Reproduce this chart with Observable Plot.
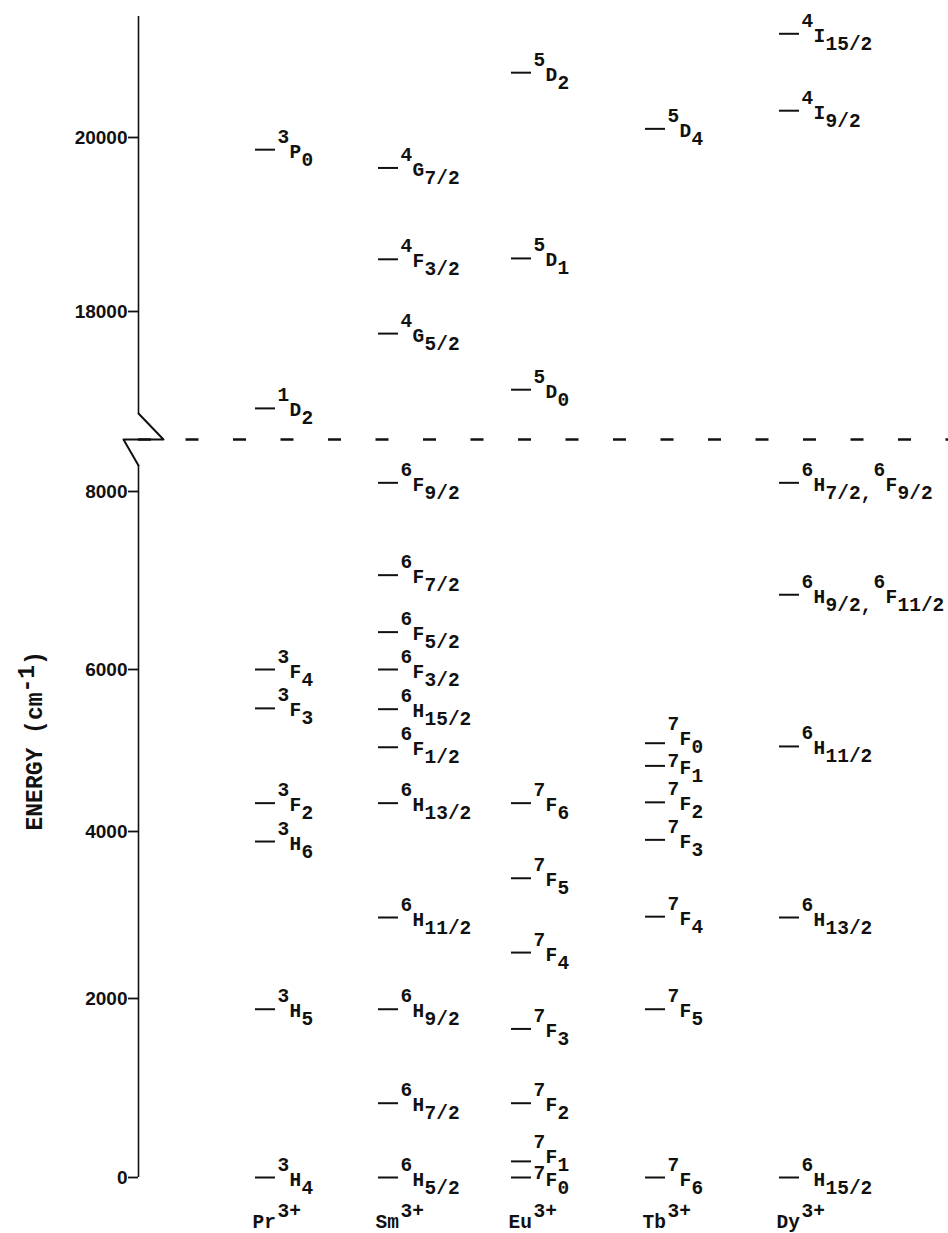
<!DOCTYPE html>
<html>
<head>
<meta charset="utf-8">
<script src="https://cdn.jsdelivr.net/npm/d3@7"></script>
<script src="https://cdn.jsdelivr.net/npm/@observablehq/plot@0.6"></script>
<style>
  html, body { margin: 0; padding: 0; background: #fff; }
  #chart svg { display: block; }
</style>
</head>
<body>
<div id="chart"></div>
<script>
// ---- Categories ----
const ions = ["Pr", "Sm", "Eu", "Tb", "Dy"];
const ionCharge = "3+";

// ---- Energy levels (cm^-1) ----
const prTerms    = ["3H4", "3H5", "3H6", "3F2", "3F3", "3F4", "1D2", "3P0"];
const prEnergies = [0, 1880, 3880, 4350, 5520, 6000, 16860, 19860];

const smTerms    = ["6H5/2", "6H7/2", "6H9/2", "6H11/2", "6H13/2", "6F1/2", "6H15/2", "6F3/2", "6F5/2", "6F7/2", "6F9/2", "4G5/2", "4F3/2", "4G7/2"];
const smEnergies = [0, 830, 1880, 2970, 4350, 5040, 5510, 6000, 6420, 7060, 8100, 17740, 18600, 19650];

const euTerms    = ["7F0", "7F1", "7F2", "7F3", "7F4", "7F5", "7F6", "5D0", "5D1", "5D2"];
const euEnergies = [0, 180, 830, 1660, 2550, 3440, 4350, 17080, 18610, 20750];

const tbTerms    = ["7F6", "7F5", "7F4", "7F3", "7F2", "7F1", "7F0", "5D4"];
const tbEnergies = [0, 1880, 2980, 3900, 4360, 4810, 5090, 20100];

const dyTerms    = ["6H15/2", "6H13/2", "6H11/2", "6H9/2,6F11/2", "6H7/2,6F9/2", "4I9/2", "4I15/2"];
const dyEnergies = [0, 2970, 5050, 6840, 8100, 20310, 21200];

// ---- Axis ----
const yTicks = [0, 2000, 4000, 6000, 8000, 18000, 20000];
const yLabelParts = ["ENERGY (cm", "-1", ")"];
const lowerAxis = [0, 8300];       // lower part of the broken axis
const upperAxis = [16800, 21400];  // upper part of the broken axis

// ---- Layout of the hand-drawn diagram (broken, slightly uneven energy axis) ----
// energy -> height above the zero line; column index -> distance from the energy axis
const energyAxis = d3.scaleLinear()
  .domain([0, 2000, 4000, 6000, 8000, lowerAxis[1], upperAxis[0], 18000, 20000, upperAxis[1]])
  .range([0, 179, 346, 508, 686, 712, 764, 866, 1040, 1161]);
const columnAxis = d3.scaleLinear()
  .domain([0, 1, 2, 3, 4, 5])
  .range([0, 117, 240, 373, 507, 641]);

// ---- Build tables ----
const termsByIon = [prTerms, smTerms, euTerms, tbTerms, dyTerms];
const energiesByIon = [prEnergies, smEnergies, euEnergies, tbEnergies, dyEnergies];
const crowd = 25; // labels of levels closer than this (in axis px) are nudged apart
const levels = ions.flatMap((ion, i) => {
  const hs = energiesByIon[i].map(e => energyAxis(e));
  return termsByIon[i].map((t, j) => {
    const h = hs[j];
    const below = hs.some((o, k) => k !== j && o < h && h - o < crowd);
    const above = hs.some((o, k) => k !== j && o > h && o - h < crowd);
    return {ion, col: i + 1, energy: energiesByIon[i][j], terms: t.split(","),
            raise: below ? 6 : 0, supDrop: above ? 8 : 0};
  });
});
const doubles = levels.filter(d => d.terms.length > 1);
const breakH = (energyAxis(lowerAxis[1]) + energyAxis(upperAxis[0])) / 2;
const axisSegments = [lowerAxis, upperAxis].map(([a, b]) => ({y1: energyAxis(a), y2: energyAxis(b)}));
const zigzag = [
  {x: 0, y: energyAxis(upperAxis[0])},
  {x: 25, y: breakH},
  {x: -15, y: breakH},
  {x: 0, y: energyAxis(lowerAxis[1])}
];

// ---- Styles ----
const ink = "#111";
const mono = "Liberation Mono, DejaVu Sans Mono, monospace";
const lvlFont = {fontFamily: mono, fontWeight: "bold", fontSize: 19.5, fill: ink, textAnchor: "start", lineAnchor: "bottom"};
const lblFont = {fontFamily: mono, fontWeight: "bold", fontSize: 23, fill: ink, textAnchor: "start", lineAnchor: "bottom"};
const pitch = 12;          // typewriter character pitch of the term symbols
const supX = 22, supY = -7, letY = 8, subY = 16;
const barLen = 20;
const lblPitch = 13.8;
const lblStart = 208.5;    // offset of the label start from the frame middle

const sup = t => t[0], letter = t => t[1], sub = t => t.slice(2);
const X = d => columnAxis(d.col);
const Y = d => energyAxis(d.energy);
const YL = d => energyAxis(d.energy) + d.raise;                 // letter / subscript
const YS = d => energyAxis(d.energy) + d.raise - d.supDrop;     // superscript

const chart = Plot.plot({
  width: 948,
  height: 1233,
  marginLeft: 138,
  marginRight: 0,
  marginTop: 16,
  marginBottom: 6,
  style: {background: "#fff", color: ink},
  x: {axis: null, type: "linear", domain: [0, 810], range: [138, 948]},
  y: {axis: null, type: "linear", domain: [0, 1161], range: [1177, 16]},
  marks: [
    // broken axis
    Plot.ruleX(axisSegments, {x: 0, y1: "y1", y2: "y2", stroke: ink, strokeWidth: 1.6}),
    Plot.line(zigzag, {x: "x", y: "y", stroke: ink, strokeWidth: 2}),
    Plot.ruleY([breakH], {stroke: ink, strokeWidth: 2.5, strokeDasharray: "13 34.5"}),
    Plot.axisY({
      anchor: "left",
      ticks: yTicks.map(v => energyAxis(v)),
      tickFormat: v => d3.format("d")(Math.round(energyAxis.invert(v))),
      tickSize: 10, tickPadding: 1, label: null, strokeWidth: 1.8, stroke: ink,
      fontFamily: "Liberation Sans, Arial, sans-serif", fontSize: 19, fontWeight: "bold", fill: ink
    }),
    // axis label (rotated, with raised -1)
    Plot.text([yLabelParts[0]], {frameAnchor: "left", rotate: -90, dx: -97, dy: lblStart, ...lblFont}),
    Plot.text([yLabelParts[1]], {frameAnchor: "left", rotate: -90, dx: -105, dy: lblStart - 10 * lblPitch, ...lblFont}),
    Plot.text([yLabelParts[2]], {frameAnchor: "left", rotate: -90, dx: -97, dy: lblStart - 12 * lblPitch, ...lblFont}),
    // level bars
    Plot.ruleY(levels, {y: Y, x1: X, x2: d => columnAxis(d.col) + barLen, stroke: ink, strokeWidth: 2}),
    // term symbols: first term
    Plot.text(levels, {x: X, y: YS, text: d => sup(d.terms[0]), dx: supX, dy: supY, ...lvlFont}),
    Plot.text(levels, {x: X, y: YL, text: d => letter(d.terms[0]), dx: supX + pitch, dy: letY, ...lvlFont}),
    Plot.text(levels, {x: X, y: YL, text: d => sub(d.terms[0]) + (d.terms.length > 1 ? "," : ""), dx: supX + 2 * pitch, dy: subY, ...lvlFont}),
    // second term of combined levels (after a 3-character subscript and a comma)
    Plot.text(doubles, {x: X, y: YS, text: d => sup(d.terms[1]), dx: supX + 6 * pitch, dy: supY, ...lvlFont}),
    Plot.text(doubles, {x: X, y: YL, text: d => letter(d.terms[1]), dx: supX + 7 * pitch, dy: letY, ...lvlFont}),
    Plot.text(doubles, {x: X, y: YL, text: d => sub(d.terms[1]), dx: supX + 8 * pitch, dy: subY, ...lvlFont}),
    // ion labels
    Plot.text(ions, {x: (d, i) => columnAxis(i + 1), frameAnchor: "bottom", text: d => d, dx: -3, ...lvlFont}),
    Plot.text(ions, {x: (d, i) => columnAxis(i + 1), frameAnchor: "bottom", text: () => ionCharge, dx: 22, dy: -11, ...lvlFont})
  ]
});

document.getElementById("chart").appendChild(chart);
</script>
</body>
</html>
